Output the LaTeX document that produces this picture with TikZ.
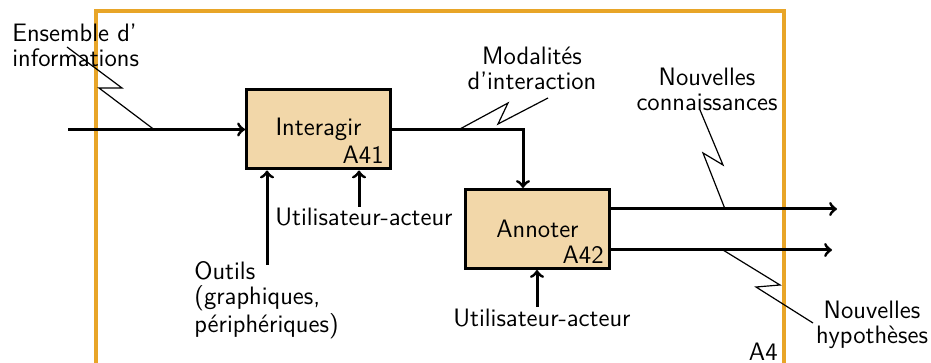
\documentclass[tikz,border=0pt]{standalone}
\usepackage{fontspec}
\begin{document}
\begin{tikzpicture}[x=0.5pt,y=-0.5pt,
  font=\sffamily\fontsize{12.6}{12.6}\selectfont,
  flow/.style={line width=1.5pt,->},
  zig/.style={line width=0.6pt},
  actbox/.style={draw,line width=1.5pt,fill=boxfill,minimum width=72pt,minimum height=39.5pt,inner sep=0pt},
  code/.style={inner sep=0pt,anchor=south east},
  lbl/.style={inner sep=0pt,align=center}]
\definecolor{boxfill}{RGB}{242,215,169}
\definecolor{framecol}{RGB}{232,165,40}
\useasboundingbox (0,0) rectangle (931,363);
% frame
\draw[framecol,line width=1.7pt] (96,363) -- (96,11) -- (784,11) -- (784,363);
% boxes
\node[actbox] (b1) at (318.5,129.5) {Interagir};
\node[code] (c1) at ([xshift=-4pt,yshift=3.2pt]b1.south east) {A41};
\node[actbox] (b2) at (537.5,229) {Annoter};
\node[code] (c2) at ([xshift=-3.5pt,yshift=3pt]b2.south east) {A42};
% coordinates
\coordinate (in1) at (68,129.5);
\coordinate (j1) at (523,129.5);
\coordinate (o1) at (837,209);
\coordinate (o2) at (832,250);
\coordinate (m1) at (267,265);
\coordinate (m2) at (359,207);
\coordinate (m3) at (537,307);
% arrows
\draw[flow] (in1) -- (b1.west);
\draw[flow] (b1.east) -- (j1) -- (j1 |- b2.north);
\draw[flow] (b2.east |- o1) -- (o1);
\draw[flow] (b2.east |- o2) -- (o2);
\draw[flow] (m1) -- (m1 |- b1.south);
\draw[flow] (m2) -- (m2 |- b1.south);
\draw[flow] (m3) -- (m3 |- b2.south);
% labels
\node[lbl,align=left,anchor=west] (t1) at (12,45) {Ensemble d'\\informations};
\node[lbl] (t2) at (532,68) {Modalités\\d'interaction};
\node[lbl] (t3) at (707,89) {Nouvelles\\connaissances};
\node[lbl] (t4) at (872,325) {Nouvelles\\hypothèses};
\node[lbl,align=left,anchor=west] (t5) at (194,300) {Outils\\(graphiques,\\périphériques)};
\node[lbl] (t6) at (364,217) {Utilisateur-acteur};
\node[lbl] (t7) at (542,318) {Utilisateur-acteur};
\node[lbl,anchor=east] (t8) at (778,352) {A4};
% lightning connectors
\draw[zig] (67,47) -- (122,88) -- (99,88) -- (154,129.5);
\draw[zig] (548,98) -- (498,124) -- (508,103) -- (459,129.5);
\draw[zig] (700,110) -- (723,165) -- (703,153) -- (725,209);
\draw[zig] (723,250) -- (780,285) -- (756,287) -- (813,323);
\end{tikzpicture}
\end{document}
